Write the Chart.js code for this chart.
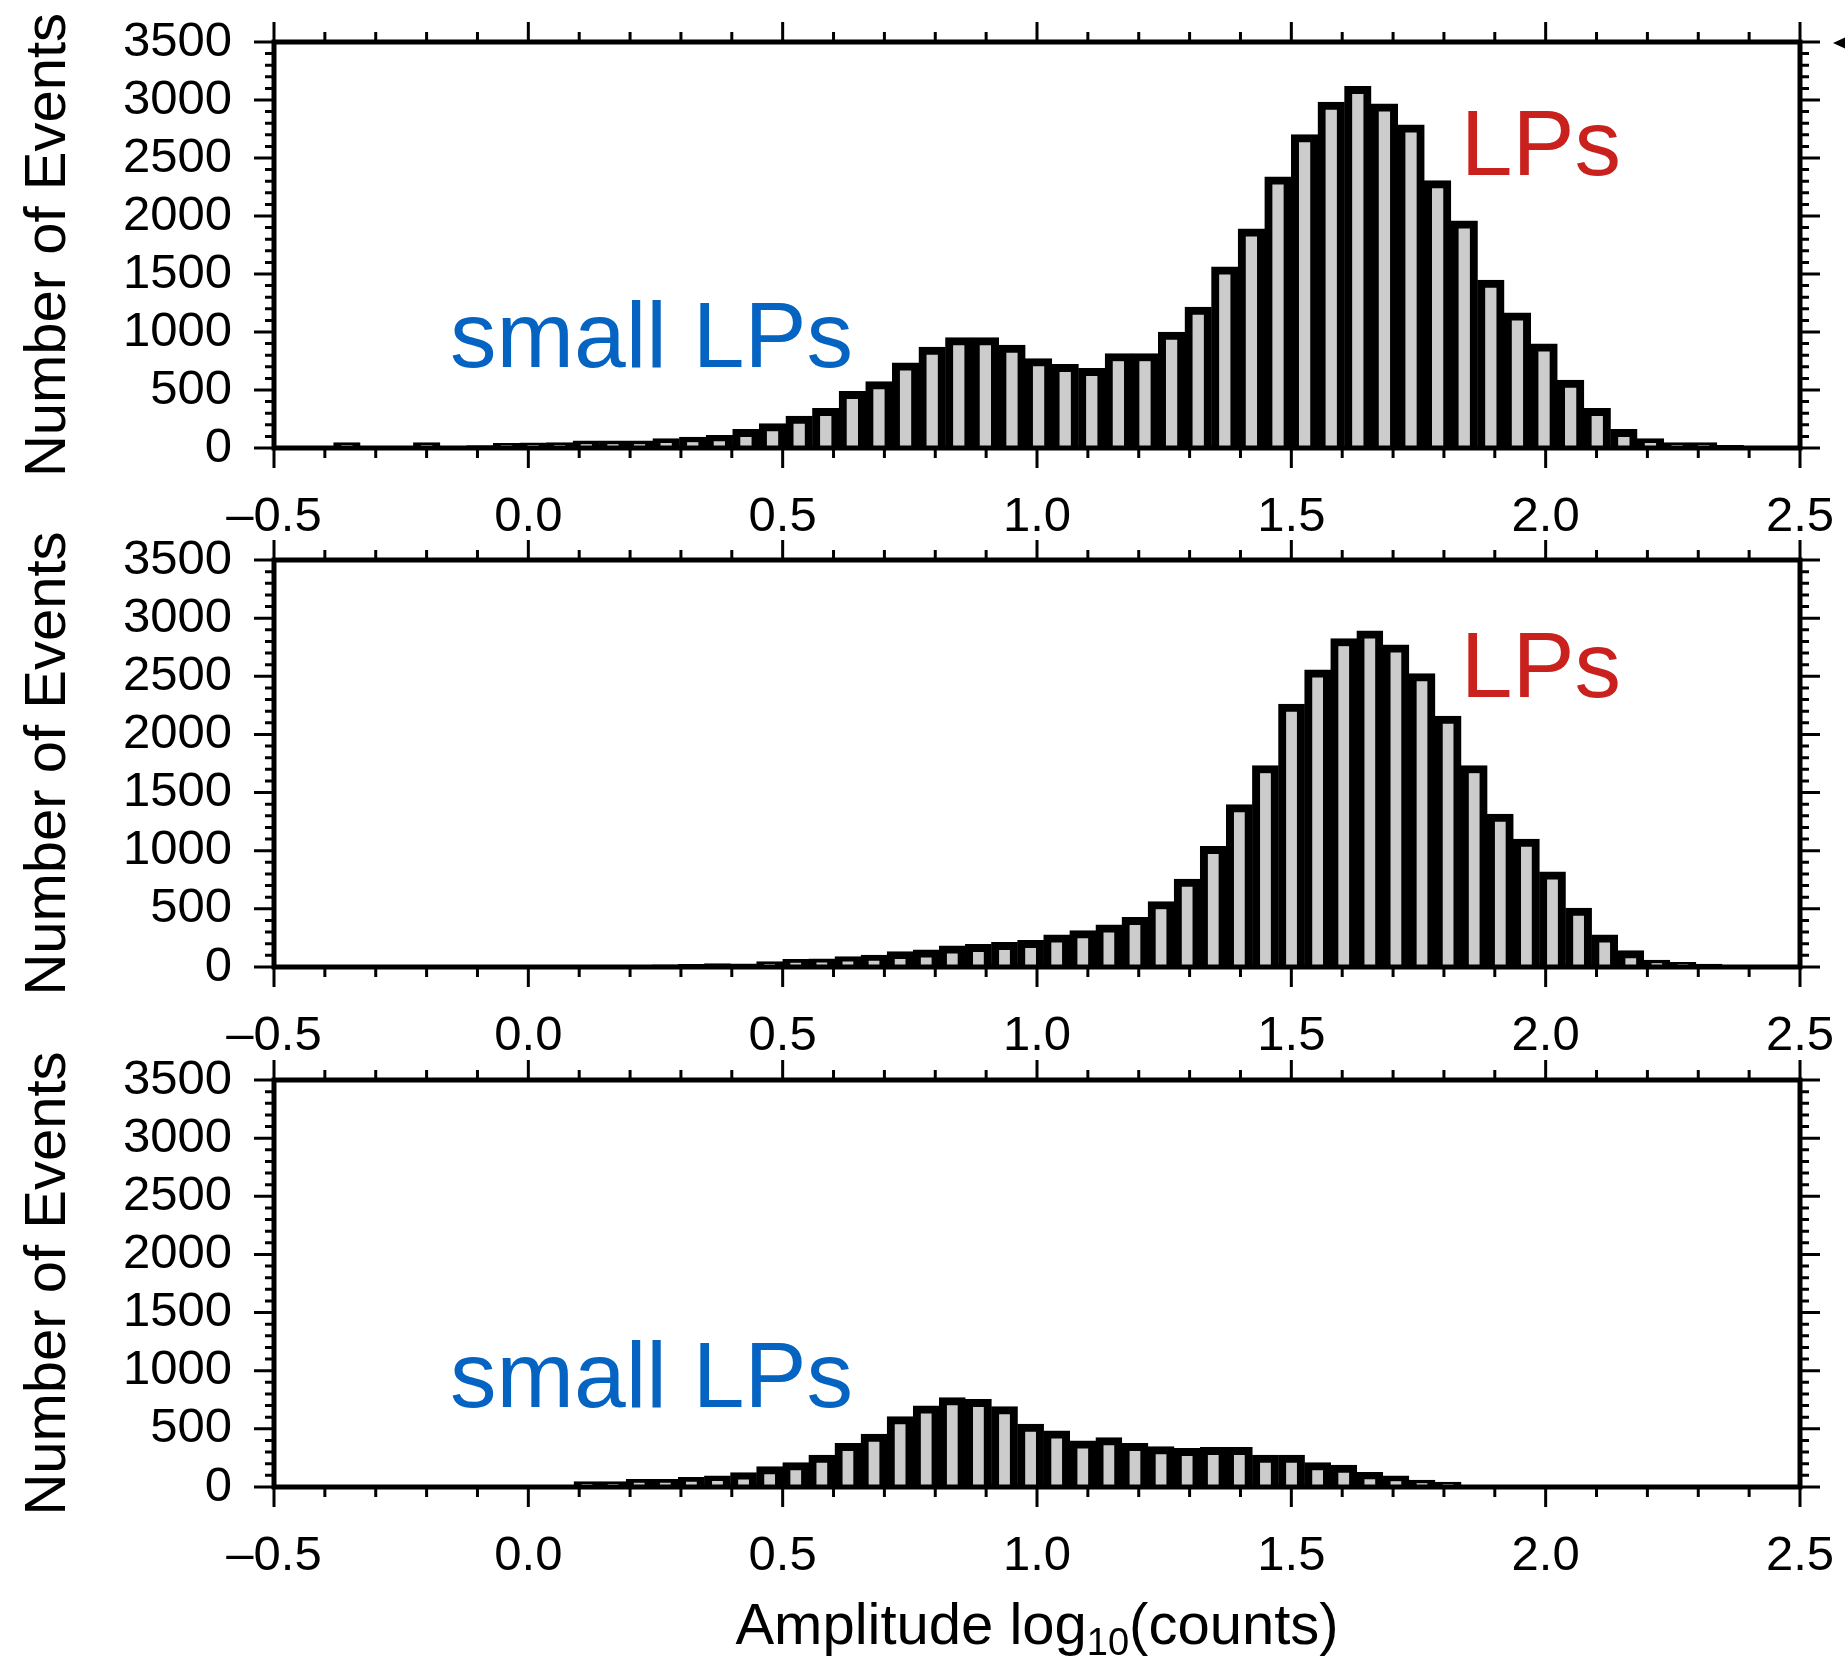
<!DOCTYPE html>
<html>
<head>
<meta charset="utf-8">
<script src="https://cdn.jsdelivr.net/npm/chart.js@4.4.1/dist/chart.umd.min.js"></script>
<style>
  html, body { margin: 0; padding: 0; background: #fff; }
  #page { position: relative; width: 1845px; height: 1671px; }
  #page canvas { position: absolute; left: 0; top: 0; }
</style>
</head>
<body>
<div id="page">
  <canvas id="chart-all" width="1845" height="1671"></canvas>
  <canvas id="chart-lp" width="1845" height="1671"></canvas>
  <canvas id="chart-small" width="1845" height="1671"></canvas>
</div>
<script>
// bin centres, log10(counts), top panel
const topBins = [
  -0.4613, -0.4090, -0.3567, -0.3044, -0.2521, -0.1998, -0.1475, -0.0952, -0.0429, 0.0094,
  0.0617, 0.1140, 0.1663, 0.2186, 0.2709, 0.3232, 0.3755, 0.4278, 0.4801, 0.5324,
  0.5847, 0.6370, 0.6893, 0.7416, 0.7939, 0.8462, 0.8985, 0.9508, 1.0031, 1.0554,
  1.1077, 1.1600, 1.2123, 1.2646, 1.3169, 1.3692, 1.4215, 1.4738, 1.5261, 1.5784,
  1.6307, 1.6830, 1.7353, 1.7876, 1.8399, 1.8922, 1.9445, 1.9968, 2.0491, 2.1014,
  2.1537, 2.2060, 2.2583, 2.3106, 2.3629, 2.4152, 2.4675
];
const topCounts = [
  10, 12, 47, 15, 15, 47, 15, 20, 40, 45,
  47, 61, 61, 61, 81, 95, 110, 161, 210, 276,
  342, 488, 572, 735, 870, 951, 951, 887, 770, 721,
  686, 815, 815, 999, 1214, 1562, 1889, 2337, 2701, 2983,
  3117, 2968, 2785, 2305, 1958, 1447, 1166, 899, 585, 342,
  161, 81, 47, 47, 23, 8, 5
];

// bin centres for the two lower panels
const lowerBins = [
  -0.4490, -0.3977, -0.3464, -0.2951, -0.2438, -0.1925, -0.1412, -0.0899, -0.0386, 0.0127,
  0.0640, 0.1153, 0.1666, 0.2179, 0.2692, 0.3205, 0.3718, 0.4231, 0.4744, 0.5257,
  0.5770, 0.6283, 0.6796, 0.7309, 0.7822, 0.8335, 0.8848, 0.9361, 0.9874, 1.0387,
  1.0900, 1.1413, 1.1926, 1.2439, 1.2952, 1.3465, 1.3978, 1.4491, 1.5004, 1.5517,
  1.6030, 1.6543, 1.7056, 1.7569, 1.8082, 1.8595, 1.9108, 1.9621, 2.0134, 2.0647,
  2.1160, 2.1673, 2.2186, 2.2699, 2.3212, 2.3725, 2.4238, 2.4751
];
const lpCounts = [
  10, 10, 10, 10, 10, 10, 10, 10, 10, 12,
  12, 12, 12, 15, 18, 22, 30, 28, 46, 66,
  70, 89, 103, 132, 147, 181, 195, 213, 230, 276,
  313, 362, 428, 563, 756, 1037, 1397, 1733, 2261, 2555,
  2825, 2891, 2770, 2523, 2158, 1733, 1316, 1101, 819, 506,
  276, 141, 60, 40, 26, 15, 10, 10
];
const smallCounts = [
  10, 10, 10, 10, 10, 10, 10, 10, 10, 12,
  14, 46, 46, 66, 66, 83, 97, 123, 175, 209,
  275, 376, 456, 605, 699, 768, 754, 691, 542, 482,
  398, 424, 376, 347, 333, 341, 341, 275, 275, 209,
  189, 126, 95, 60, 43, 15, 10, 10, 10, 10,
  10, 10, 10, 10, 10, 10, 10, 10
];

const FONT = '"Liberation Sans", Arial, Helvetica, sans-serif';
const BLUE = '#0563c1';
const RED = '#c9211e';

function xLabel(value) {
  return value.toFixed(1).replace('-', '\u2013');
}

// frame box with outward ticks on all four sides
const framePlugin = {
  id: 'frame',
  afterDraw: function(chart) {
    const ctx = chart.ctx;
    const a = chart.chartArea;
    const x = chart.scales.x;
    const y = chart.scales.y;
    ctx.save();
    ctx.strokeStyle = '#000';
    ctx.lineWidth = 3;
    ctx.beginPath();
    for (let i = 0; i <= 30; i++) {
      const px = x.getPixelForValue(-0.5 + i / 10);
      const len = i % 5 === 0 ? 20 : 10;
      ctx.moveTo(px, a.bottom);
      ctx.lineTo(px, a.bottom + len);
      ctx.moveTo(px, a.top);
      ctx.lineTo(px, a.top - len);
    }
    for (let c = 0; c <= 3500; c += 100) {
      const py = y.getPixelForValue(c);
      const len = c % 500 === 0 ? 20 : 9;
      ctx.moveTo(a.left, py);
      ctx.lineTo(a.left - len, py);
      ctx.moveTo(a.right, py);
      ctx.lineTo(a.right + len, py);
    }
    ctx.stroke();
    ctx.lineWidth = 5;
    ctx.strokeRect(a.left, a.top, a.right - a.left, a.bottom - a.top);
    ctx.restore();
  }
};

function notesPlugin(items) {
  return {
    id: 'notes',
    afterDatasetsDraw: function(chart) {
      const ctx = chart.ctx;
      ctx.save();
      ctx.font = '93px ' + FONT;
      ctx.textAlign = 'left';
      ctx.textBaseline = 'alphabetic';
      items.forEach(function(n) {
        ctx.fillStyle = n.color;
        ctx.fillText(
          n.text,
          chart.scales.x.getPixelForValue(n.x),
          chart.scales.y.getPixelForValue(n.y)
        );
      });
      ctx.restore();
    }
  };
}

// x title with subscript, bottom panel only
const xTitlePlugin = {
  id: 'xtitle',
  afterDraw: function(chart) {
    const ctx = chart.ctx;
    const a = chart.chartArea;
    const big = '58px ' + FONT;
    const small = '38px ' + FONT;
    ctx.save();
    ctx.fillStyle = '#000';
    ctx.textAlign = 'left';
    ctx.textBaseline = 'alphabetic';
    ctx.font = big;
    const w1 = ctx.measureText('Amplitude log').width;
    const w3 = ctx.measureText('(counts)').width;
    ctx.font = small;
    const w2 = ctx.measureText('10').width;
    let px = (a.left + a.right) / 2 - (w1 + w2 + w3) / 2;
    const base = a.bottom + 157;
    ctx.font = big;
    ctx.fillText('Amplitude log', px, base);
    px += w1;
    ctx.font = small;
    ctx.fillText('10', px, base + 11);
    px += w2;
    ctx.font = big;
    ctx.fillText('(counts)', px, base);
    ctx.restore();
  }
};

// small pointer cut by the right edge of the figure
const pointerPlugin = {
  id: 'pointer',
  afterDraw: function(chart) {
    const ctx = chart.ctx;
    const py = chart.scales.y.getPixelForValue(3500);
    ctx.save();
    ctx.fillStyle = '#000';
    ctx.beginPath();
    ctx.moveTo(1833, py + 1);
    ctx.lineTo(1846, py - 5);
    ctx.lineTo(1846, py + 7);
    ctx.closePath();
    ctx.fill();
    ctx.restore();
  }
};

function makePanel(id, bins, counts, top, bottom, extra) {

  const points = bins.map(function(b, i) {
    return { x: b, y: counts[i] };
  });

  return new Chart(document.getElementById(id), {
    type: 'bar',
    data: {
      datasets: [
        {
          data: points,
          backgroundColor: '#cccccc',
          borderColor: '#000000',
          borderWidth: { top: 8, left: 8, right: 8, bottom: 0 },
          borderSkipped: 'start',
          barPercentage: 1,
          categoryPercentage: 1
        }
      ]
    },
    options: {
      responsive: false,
      animation: false,
      layout: {
        padding: { left: 0, right: 45, top: top, bottom: 1671 - bottom - 100 }
      },
      plugins: {
        legend: { display: false },
        tooltip: { enabled: false }
      },
      scales: {
        x: {
          type: 'linear',
          min: -0.5,
          max: 2.5,
          offset: false,
          grid: { display: false, drawTicks: false, offset: false },
          border: { display: false },
          ticks: {
            stepSize: 0.5,
            padding: 40,
            color: '#000',
            maxRotation: 0,
            autoSkip: false,
            font: { family: FONT, size: 49 },
            callback: xLabel
          },
          afterFit: function(s) {
            s.height = 100;
            s.paddingLeft = 0;
            s.paddingRight = 0;
          }
        },
        y: {
          min: 0,
          max: 3500,
          grid: { display: false, drawTicks: false },
          border: { display: false },
          ticks: {
            stepSize: 500,
            padding: 42,
            autoSkip: false,
            color: '#000',
            font: { family: FONT, size: 49 },
            callback: function(value) { return String(value); }
          },
          title: {
            display: true,
            text: 'Number of Events',
            color: '#000',
            font: { family: FONT, size: 58 },
            padding: { top: 14, bottom: 0 }
          },
          afterFit: function(s) {
            s.width = 274;
            s.paddingTop = 0;
            s.paddingBottom = 0;
          }
        }
      }
    },
    plugins: [framePlugin].concat(extra)
  });
}

makePanel('chart-all', topBins, topCounts, 42, 448, [
  notesPlugin([
    { text: 'small LPs', x: -0.154, y: 700, color: BLUE },
    { text: 'LPs', x: 1.833, y: 2357, color: RED }
  ]),
  pointerPlugin
]);

makePanel('chart-lp', lowerBins, lpCounts, 560, 967, [
  notesPlugin([
    { text: 'LPs', x: 1.833, y: 2325, color: RED }
  ])
]);

makePanel('chart-small', lowerBins, smallCounts, 1080, 1487, [
  notesPlugin([
    { text: 'small LPs', x: -0.154, y: 690, color: BLUE }
  ]),
  xTitlePlugin
]);
</script>
</body>
</html>
